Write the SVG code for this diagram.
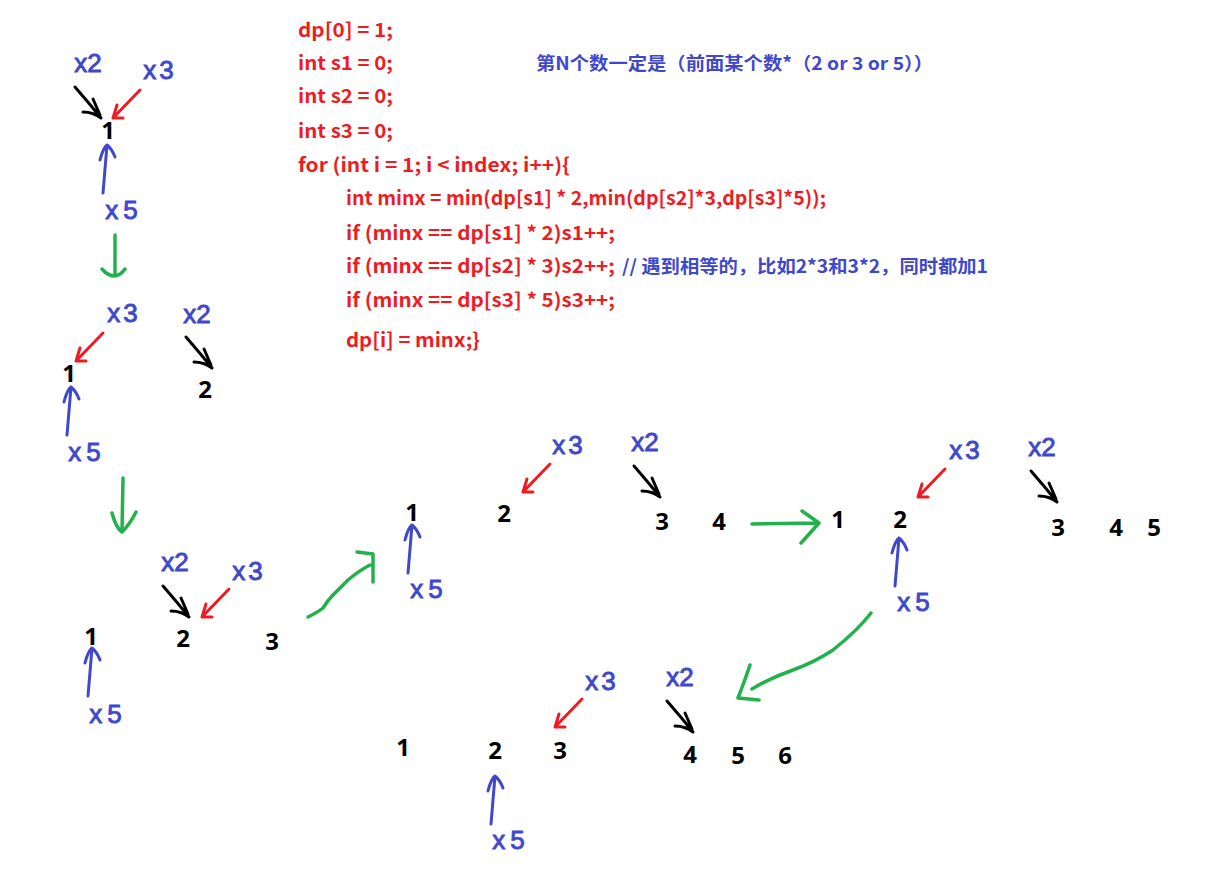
<svg xmlns="http://www.w3.org/2000/svg" xmlns:xlink="http://www.w3.org/1999/xlink" width="1223" height="876" viewBox="0 0 1223 876">
<style>
.code{font-family:"Noto Sans CJK SC","Noto Sans",sans-serif;font-weight:bold;font-size:19px;fill:#ED1C24}
.note{font-family:"Noto Sans CJK SC","Noto Sans",sans-serif;font-weight:bold;font-size:18px;fill:#3F48CC}
.num{font-family:"Noto Sans","DejaVu Sans",sans-serif;font-weight:bold;font-size:24px;fill:#000;text-anchor:middle}
.lbl{font-family:"Liberation Sans",Arial,sans-serif;font-size:26px;fill:#3F48CC;stroke:#3F48CC;stroke-width:0.9;text-anchor:middle}
.s{fill:none;stroke-width:3;stroke-linecap:round;stroke-linejoin:round}
.red{stroke:#ED1C24}
.blk{stroke:#000}
.blu{stroke:#3F48CC}
.grn{stroke:#22B14C;stroke-width:3.5}
</style>
<defs>
<path id="red-arr" class="s red" d="M27,-28 L0,0 M4,-13 L0,0 L10,0"/>
<path id="blk-arr" class="s blk" d="M-26,-31 Q-12,-15 0,0 M-8,-19 L-1,-3 M-18,-6 Q-8,-6 0,0"/>
<path id="blue-up" class="s blu" d="M-4,48 L0,0 M-7,15 Q-4,3 0,0 Q5,4 8,12"/>
</defs>
<rect width="1223" height="876" fill="#fff"/>

<g id="code">
<text class="code" x="298" y="37" textLength="95" lengthAdjust="spacingAndGlyphs">dp[0] = 1;</text>
<text class="code" x="298" y="70" textLength="95" lengthAdjust="spacingAndGlyphs">int s1 = 0;</text>
<text class="code" x="298" y="103" textLength="95" lengthAdjust="spacingAndGlyphs">int s2 = 0;</text>
<text class="code" x="298" y="138" textLength="95" lengthAdjust="spacingAndGlyphs">int s3 = 0;</text>
<text class="code" x="298" y="172" textLength="272" lengthAdjust="spacingAndGlyphs">for (int i = 1; i &lt; index; i++){</text>
<text class="code" x="346" y="205" textLength="480" lengthAdjust="spacingAndGlyphs">int minx = min(dp[s1] * 2,min(dp[s2]*3,dp[s3]*5));</text>
<text class="code" x="346" y="240" textLength="269" lengthAdjust="spacingAndGlyphs">if (minx == dp[s1] * 2)s1++;</text>
<text class="code" x="346" y="273" textLength="269" lengthAdjust="spacingAndGlyphs">if (minx == dp[s2] * 3)s2++;</text>
<text class="note" x="622" y="273" textLength="366" lengthAdjust="spacingAndGlyphs">// 遇到相等的，比如2*3和3*2，同时都加1</text>
<text class="code" x="346" y="307" textLength="269" lengthAdjust="spacingAndGlyphs">if (minx == dp[s3] * 5)s3++;</text>
<text class="code" x="346" y="347" textLength="134" lengthAdjust="spacingAndGlyphs">dp[i] = minx;}</text>
<text class="note" x="536" y="70" textLength="397" lengthAdjust="spacingAndGlyphs">第N个数一定是（前面某个数*（2 or 3 or 5））</text>
</g>

<g id="connectors">
<use xlink:href="#red-arr" transform="translate(113,118)"/>
<use xlink:href="#red-arr" transform="translate(76,361)"/>
<use xlink:href="#red-arr" transform="translate(202,617)"/>
<use xlink:href="#red-arr" transform="translate(523,492)"/>
<use xlink:href="#red-arr" transform="translate(918,497)"/>
<use xlink:href="#red-arr" transform="translate(555,727)"/>
<use xlink:href="#blk-arr" transform="translate(101,118)"/>
<use xlink:href="#blk-arr" transform="translate(212,368)"/>
<use xlink:href="#blk-arr" transform="translate(189,617)"/>
<use xlink:href="#blk-arr" transform="translate(660,497)"/>
<use xlink:href="#blk-arr" transform="translate(1057,502)"/>
<use xlink:href="#blk-arr" transform="translate(693,732)"/>
<use xlink:href="#blue-up" transform="translate(107,145)"/>
<use xlink:href="#blue-up" transform="translate(71,387)"/>
<use xlink:href="#blue-up" transform="translate(92,648)"/>
<use xlink:href="#blue-up" transform="translate(412,525)"/>
<use xlink:href="#blue-up" transform="translate(899,538)"/>
<use xlink:href="#blue-up" transform="translate(495,776)"/>
<path class="s grn" d="M115,235 L115,275 M102,269 Q108,276 115,276 Q121,275 125,269"/>
<path class="s grn" d="M123,478 L122,532 M112,513 Q116,528 122,532 Q130,524 136,512"/>
<path class="s grn" d="M308,617 Q318,612 323,608 Q328,600 333,595 L348,580 Q360,570 370,565 M357,552 L373,554 L373,582"/>
<path class="s grn" d="M752,524 L818,523 M802,511 L819,523 L801,543"/>
<path class="s grn" d="M871,613 Q858,630 833,650 Q815,662 793,670 Q770,678 752,689 M750,665 Q745,680 738,698 L759,700"/>
</g>

<g id="labels">
<text class="lbl" x="88" y="72">x2</text>
<text class="lbl" x="160" y="79" letter-spacing="3">x3</text>
<text class="lbl" x="124" y="219" letter-spacing="5">x5</text>
<text class="lbl" x="124" y="322" letter-spacing="3">x3</text>
<text class="lbl" x="197" y="323">x2</text>
<text class="lbl" x="87" y="461" letter-spacing="5">x5</text>
<text class="lbl" x="175" y="571">x2</text>
<text class="lbl" x="249" y="580" letter-spacing="3">x3</text>
<text class="lbl" x="108" y="723" letter-spacing="5">x5</text>
<text class="lbl" x="429" y="598" letter-spacing="5">x5</text>
<text class="lbl" x="569" y="454" letter-spacing="3">x3</text>
<text class="lbl" x="645" y="451">x2</text>
<text class="lbl" x="966" y="459" letter-spacing="3">x3</text>
<text class="lbl" x="1042" y="456">x2</text>
<text class="lbl" x="916" y="611" letter-spacing="5">x5</text>
<text class="lbl" x="602" y="690" letter-spacing="3">x3</text>
<text class="lbl" x="680" y="686">x2</text>
<text class="lbl" x="511" y="849" letter-spacing="5">x5</text>
</g>

<g id="s1-n1"><text class="num" x="108" y="139">1</text></g>
<g id="s2-n1"><text class="num" x="69" y="382">1</text></g>
<g id="s2-n2"><text class="num" x="205" y="398">2</text></g>
<g id="s3-n1"><text class="num" x="91" y="645">1</text></g>
<g id="s3-n2"><text class="num" x="183" y="647">2</text></g>
<g id="s3-n3"><text class="num" x="272" y="650">3</text></g>
<g id="s4-n1"><text class="num" x="412" y="521">1</text></g>
<g id="s4-n2"><text class="num" x="504" y="522">2</text></g>
<g id="s4-n3"><text class="num" x="662" y="530">3</text></g>
<g id="s4-n4"><text class="num" x="719" y="530">4</text></g>
<g id="s5-n1"><text class="num" x="838" y="528">1</text></g>
<g id="s5-n2"><text class="num" x="900" y="528">2</text></g>
<g id="s5-n3"><text class="num" x="1058" y="536">3</text></g>
<g id="s5-n4"><text class="num" x="1116" y="536">4</text></g>
<g id="s5-n5"><text class="num" x="1154" y="536">5</text></g>
<g id="s6-n1"><text class="num" x="403" y="756">1</text></g>
<g id="s6-n2"><text class="num" x="495" y="759">2</text></g>
<g id="s6-n3"><text class="num" x="560" y="759">3</text></g>
<g id="s6-n4"><text class="num" x="690" y="763">4</text></g>
<g id="s6-n5"><text class="num" x="738" y="764">5</text></g>
<g id="s6-n6"><text class="num" x="785" y="764">6</text></g>
</svg>
